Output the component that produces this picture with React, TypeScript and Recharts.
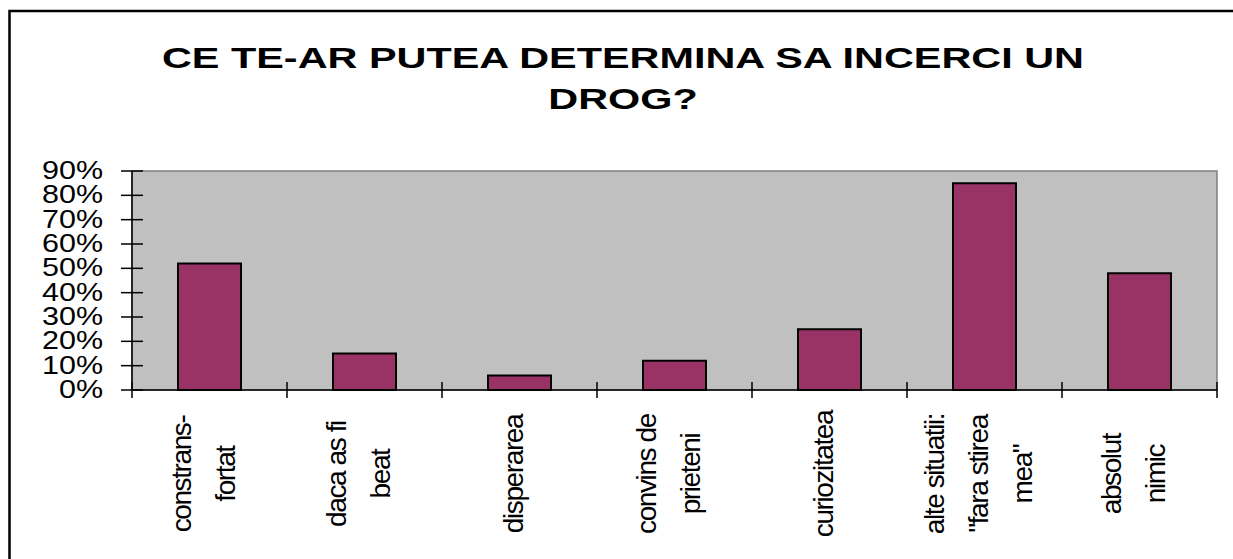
import { Bar, BarChart, CartesianGrid, ReferenceArea, XAxis, YAxis } from "recharts";

const categories = [
  "constrans-\nfortat",
  "daca as fi\nbeat",
  "disperarea",
  "convins de\nprieteni",
  "curiozitatea",
  "alte situatii:\n\"fara stirea\nmea\"",
  "absolut\nnimic",
];
const shares = [52, 15, 6, 12, 25, 85, 48];
const yTicks = [0, 10, 20, 30, 40, 50, 60, 70, 80, 90];
const titleLines = ["CE TE-AR PUTEA DETERMINA SA INCERCI UN", "DROG?"];

const data = categories.map((name, i) => ({ name, value: shares[i] }));

const W = 1233;
const H = 559;
const PLOT_LEFT = 132;
const PLOT_RIGHT = 1217;
const PLOT_TOP = 171;
const PLOT_BOTTOM = 390;
const BAND = (PLOT_RIGHT - PLOT_LEFT) / categories.length;
const FONT = "'Liberation Sans', Arial, sans-serif";

function YTick({ y, payload }: any) {
  return (
    <g>
      <line x1={PLOT_LEFT - 11} x2={PLOT_LEFT + 11} y1={y} y2={y} stroke="#000" strokeWidth={1.5} />
      <text
        transform={`translate(103, ${y + 8}) scale(1.22, 1)`}
        textAnchor="end"
        fontSize={25}
        fontFamily={FONT}
        fill="#000"
      >
        {payload.value}%
      </text>
    </g>
  );
}

function XTick({ x, payload, index }: any) {
  const lines = String(payload.value).split("\n");
  const left = x - BAND / 2;
  const cy = 474;
  return (
    <g>
      <line x1={left} x2={left} y1={PLOT_BOTTOM - 8} y2={PLOT_BOTTOM + 8} stroke="#000" strokeWidth={1.5} />
      {index === categories.length - 1 ? (
        <line x1={left + BAND} x2={left + BAND} y1={PLOT_BOTTOM - 8} y2={PLOT_BOTTOM + 8} stroke="#000" strokeWidth={1.5} />
      ) : null}
      {lines.map((line, i) => {
        const bx = x + 3 + (i - (lines.length - 1) / 2) * 44;
        return (
          <text
            key={i}
            x={bx}
            y={cy}
            transform={`rotate(-90, ${bx}, ${cy})`}
            textAnchor="middle"
            fontSize={28}
            letterSpacing={-1.4}
            fontFamily={FONT}
            fill="#000"
          >
            {line}
          </text>
        );
      })}
    </g>
  );
}

export default function App() {
  return (
    <div style={{ position: "absolute", left: 0, top: 0, width: W, height: H, background: "#fff" }}>
      <div style={{ position: "absolute", left: 0, top: 0 }}>
        <BarChart
          width={W}
          height={H}
          data={data}
          accessibilityLayer={false}
          margin={{ top: PLOT_TOP, right: W - PLOT_RIGHT, bottom: 9, left: PLOT_LEFT - 60 }}
        >
          <CartesianGrid horizontal={false} vertical={false} fill="#C0C0C0" />
          <ReferenceArea y1={0} y2={90} fill="none" stroke="#808080" strokeWidth={1.5} ifOverflow="visible" />
          <XAxis
            dataKey="name"
            height={H - PLOT_BOTTOM - 9}
            interval={0}
            tickLine={false}
            axisLine={{ stroke: "#000", strokeWidth: 1.5 }}
            tick={<XTick />}
          />
          <YAxis
            width={60}
            domain={[0, 90]}
            ticks={yTicks}
            interval={0}
            tickLine={false}
            axisLine={{ stroke: "#000", strokeWidth: 1.5 }}
            tick={<YTick />}
          />
          <Bar dataKey="value" fill="#993366" stroke="#000" strokeWidth={2} barSize={63} isAnimationActive={false} />
        </BarChart>
      </div>
      <svg width={W} height={H} style={{ position: "absolute", left: 0, top: 0, pointerEvents: "none" }}>
        <rect x={PLOT_RIGHT + 3} y={14} width={W - PLOT_RIGHT} height={H} fill="#fff" />
        <path d={`M ${W + 5} 11 L 9.5 11 L 9.5 ${H + 5}`} fill="none" stroke="#000" strokeWidth={2.5} />
        {titleLines.map((t, i) => (
          <text
            key={i}
            transform={`translate(623, ${68 + i * 41}) scale(1.38, 1)`}
            textAnchor="middle"
            fontSize={30}
            fontWeight="bold"
            fontFamily={FONT}
            fill="#000"
          >
            {t}
          </text>
        ))}
      </svg>
    </div>
  );
}
